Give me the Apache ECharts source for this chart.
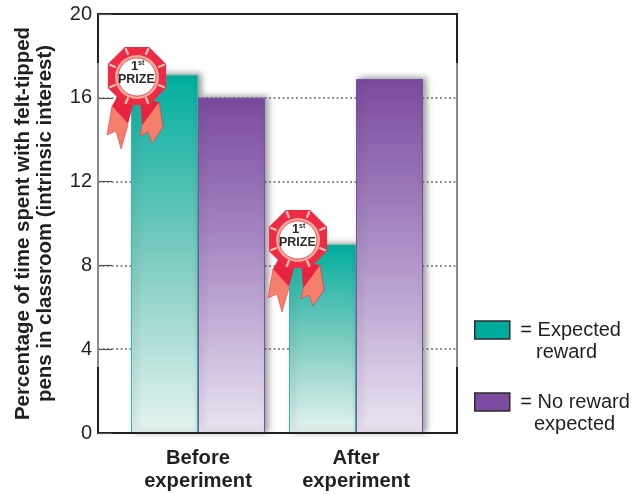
<!DOCTYPE html>
<html><head><meta charset="utf-8">
<style>html,body{margin:0;padding:0;background:#fff}#c{width:634px;height:494px}</style>
<script src="https://cdn.jsdelivr.net/npm/echarts@6/dist/echarts.min.js"></script>
</head><body><div id="c"></div>
<script>
const categories = ['Before\nexperiment', 'After\nexperiment'];
const expectedReward = [17.1, 9.0];
const noRewardExpected = [16.0, 16.9];
const yTicks = [0, 4, 8, 12, 16, 20];
const yTitle = 'Percentage of time spent with felt-tipped\npens in classroom (intrinsic interest)';
const seriesNames = ['Expected reward', 'No reward expected'];
const legendFirstLines = {'Expected reward': ' = Expected', 'No reward expected': ' = No reward'};
const legendSecondLines = ['reward', 'expected'];

const FONT = '"Liberation Sans", Arial, sans-serif';
const chart = echarts.init(document.getElementById('c'), null, {renderer: 'canvas'});

function grad(top, mid, bottom) {
  return new echarts.graphic.LinearGradient(0, 0, 0, 1, [
    {offset: 0, color: top}, {offset: 0.5, color: mid}, {offset: 1, color: bottom}]);
}
function barSeries(name, data, top, mid, bottom, edge) {
  return {
    type: 'bar', name, data, xAxisIndex: 1, yAxisIndex: 1,
    barWidth: 67, barGap: '0%',
    itemStyle: {
      color: grad(top, mid, bottom), borderColor: edge, borderWidth: 1,
      shadowBlur: 6, shadowColor: 'rgba(60,60,60,0.5)', shadowOffsetX: 3, shadowOffsetY: -1
    },
    emphasis: {disabled: true}, animation: false
  };
}
function ribbon(cx, cy) {
  const Z = 50;
  const P = (pts, fill, stroke) => ({type: 'polygon', z: Z, shape: {points: pts}, style: {fill, stroke: stroke || null, lineWidth: 0.5}});
  const ring = [];
  for (let i = 0; i < 8; i++) {
    const a = Math.PI / 8 + i * Math.PI / 4;
    ring.push([31.5 * Math.cos(a), 31.5 * Math.sin(a)]);
  }
  const spokes = [];
  for (let i = 0; i < 8; i++) {
    const a = Math.PI / 8 + i * Math.PI / 4;
    spokes.push({type: 'line', z: Z, shape: {x1: 23 * Math.cos(a), y1: 23 * Math.sin(a), x2: 30 * Math.cos(a), y2: 30 * Math.sin(a)},
      style: {stroke: '#f7c4bb', lineWidth: 2.2}});
  }
  return {
    type: 'group', x: cx, y: cy, silent: true,
    children: [
      P([[-20, 21], [-2, 22], [-9, 48], [-25, 30]], '#e8233f'),
      P([[-25, 30], [-9, 49], [-16, 73], [-21, 55], [-30, 59]], '#f4806c', '#e8233f'),
      P([[3, 23], [22, 26], [17, 42], [5, 49]], '#e8233f'),
      P([[5, 49], [22, 26], [26, 51], [15, 67], [11, 56], [3, 60]], '#f4806c', '#e8233f'),
      P(ring, '#ee2b45'),
      ...spokes,
      {type: 'circle', z: Z, shape: {cx: 0, cy: 1, r: 22}, style: {fill: '#f6a79c'}},
      {type: 'circle', z: Z, shape: {cx: 0, cy: 1, r: 19}, style: {fill: '#ffffff', stroke: '#d9243c', lineWidth: 0.7}},
      {type: 'text', z: Z, x: -6, y: -16, style: {text: '1', fontFamily: FONT, fontSize: 13, fontWeight: 'bold', fill: '#2a2a2a'}},
      {type: 'text', z: Z, x: 1, y: -16, style: {text: 'st', fontFamily: FONT, fontSize: 7, fontWeight: 'bold', fill: '#2a2a2a'}},
      {type: 'text', z: Z, x: -19, y: -3, style: {text: 'PRIZE', fontFamily: FONT, fontSize: 12.5, fontWeight: 'bold', fill: '#2a2a2a'}}
    ]
  };
}

chart.setOption({
  animation: false,
  backgroundColor: '#ffffff',
  grid: [
    {left: 98, top: 14, width: 359, height: 419, show: true, borderColor: '#231f20', borderWidth: 2, backgroundColor: 'transparent', outerBoundsMode: 'none'},
    {left: 119, top: 14, width: 316, height: 419, outerBoundsMode: 'none'}
  ],
  xAxis: [
    {type: 'value', gridIndex: 0, min: 0, max: 1, show: false},
    {type: 'category', gridIndex: 1, data: categories, z: 5,
      axisLine: {show: true, onZero: false, lineStyle: {color: '#231f20', width: 2}},
      axisTick: {show: false},
      axisLabel: {color: '#231f20', fontFamily: FONT, fontSize: 20.2, fontWeight: 'bold', lineHeight: 23, margin: 14}}
  ],
  yAxis: [
    {type: 'value', gridIndex: 0, min: yTicks[0], max: yTicks[yTicks.length - 1], interval: 4,
      name: yTitle, nameLocation: 'middle', nameRotate: 90, nameGap: 42,
      nameTextStyle: {color: '#231f20', fontFamily: FONT, fontSize: 20.4, fontWeight: 'bold', lineHeight: 22},
      axisLine: {show: false},
      axisTick: {show: true, inside: true, length: 14, lineStyle: {color: '#555', width: 1.2}},
      axisLabel: {color: '#231f20', fontFamily: FONT, fontSize: 20, margin: 6, padding: [5, 0, 0, 0]},
      splitLine: {show: true, showMinLine: false, showMaxLine: false, lineStyle: {color: '#6e6e6e', width: 1.6, type: [2, 2.5]}}},
    {type: 'value', gridIndex: 1, min: 0, max: 20, show: false, splitLine: {show: false}}
  ],
  legend: {
    orient: 'vertical', left: 474, top: 320, padding: 0, itemWidth: 35, itemHeight: 18, itemGap: 52,
    selectedMode: false, icon: 'rect', align: 'left',
    data: [
      {name: seriesNames[0], itemStyle: {color: '#00ab9b', borderColor: '#2b2b2b', borderWidth: 1.5}},
      {name: seriesNames[1], itemStyle: {color: '#7b4c9f', borderColor: '#2b2b2b', borderWidth: 1.5}}
    ],
    formatter: n => legendFirstLines[n],
    textStyle: {color: '#231f20', fontFamily: FONT, fontSize: 20}
  },
  series: [
    barSeries(seriesNames[0], expectedReward, '#00ae9e', '#7ccbbf', '#e6f4f1', '#35b8aa'),
    barSeries(seriesNames[1], noRewardExpected, '#7a4a9e', '#ae93c8', '#ebe5f2', '#7b50a3')
  ],
  graphic: [
    {type: 'rect', shape: {x: 97, y: 63, width: 2, height: 304}, style: {fill: '#8a8a8a'}, silent: true, z: 10},
    {type: 'rect', shape: {x: 456, y: 63, width: 2, height: 304}, style: {fill: '#8a8a8a'}, silent: true, z: 10},
    {type: 'text', x: 536, y: 342, silent: true, style: {text: legendSecondLines[0], fontFamily: FONT, fontSize: 20, fill: '#231f20'}},
    {type: 'text', x: 534, y: 414, silent: true, style: {text: legendSecondLines[1], fontFamily: FONT, fontSize: 20, fill: '#231f20'}},
    ribbon(137, 76),
    ribbon(298, 239)
  ]
});
</script></body></html>
